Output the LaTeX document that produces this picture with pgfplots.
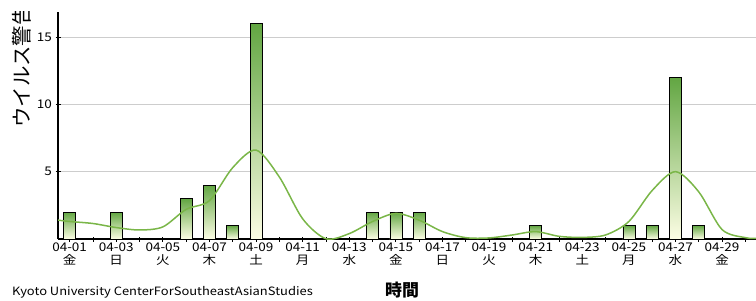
\documentclass[border=0pt]{standalone}
\usepackage{fontspec}
\setmainfont{Noto Sans CJK JP}
\newfontfamily\wide[FakeStretch=1.13]{Noto Sans CJK JP}
\usepackage{pgfplots}
\pgfplotsset{compat=1.18}
\definecolor{barTop}{RGB}{98,166,66}
\definecolor{barBot}{RGB}{252,253,228}
\definecolor{trend}{RGB}{122,182,72}
\definecolor{gridc}{RGB}{205,205,205}
\pgfplotsset{gbar/.style={ybar, bar width=12bp, bar shift=0pt, draw=black, line width=0.6bp, top color=barTop, bottom color=barBot, forget plot}}
\begin{document}
\begin{tikzpicture}[x=1bp,y=1bp]
\begin{axis}[
  at={(58bp,61bp)}, anchor=south west,
  scale only axis, width=699bp, height=227bp,
  xmin=0.5, xmax=30.5, ymin=0, ymax=16.85,
  axis x line*=bottom, axis y line*=left,
  axis line style={line width=1.5bp, black},
  xtick={1,3,...,29},
  xticklabels={{04-01\\金},{04-03\\日},{04-05\\火},{04-07\\木},{04-09\\土},{04-11\\月},{04-13\\水},{04-15\\金},{04-17\\日},{04-19\\火},{04-21\\木},{04-23\\土},{04-25\\月},{04-27\\水},{04-29\\金}},
  minor xtick={2,4,...,30},
  ytick={5,10,15},
  ymajorgrids, grid style={gridc, line width=0.8bp},
  tick align=center, major tick length=5bp, minor tick length=5bp,
  every tick/.style={black, line width=0.8bp},
  minor tick style={black, line width=0.8bp},
  x tick label style={align=center, font=\wide\fontsize{12}{13.5}\selectfont, inner sep=1bp},
  y tick label style={font=\wide\fontsize{12}{13}\selectfont},
  /pgf/number format/assume math mode=true,
]
\addplot[gbar] coordinates {(1,2)};
\addplot[gbar] coordinates {(3,2)};
\addplot[gbar] coordinates {(6,3)};
\addplot[gbar] coordinates {(7,4)};
\addplot[gbar] coordinates {(8,1)};
\addplot[gbar] coordinates {(9,16)};
\addplot[gbar] coordinates {(14,2)};
\addplot[gbar] coordinates {(15,2)};
\addplot[gbar] coordinates {(16,2)};
\addplot[gbar] coordinates {(21,1)};
\addplot[gbar] coordinates {(25,1)};
\addplot[gbar] coordinates {(26,1)};
\addplot[gbar] coordinates {(27,12)};
\addplot[gbar] coordinates {(28,1)};
\addplot[smooth, no marks, color=trend, line width=1.5bp] coordinates {
(0.5,1.4) (1,1.3) (2,1.15) (3,0.85) (4,0.67) (5,0.9) (6,2.2) (7,2.85) (8,5.3) (9,6.6) (10,4.6) (11,1.5) (12,0.02) (13,0.4) (14,1.3) (15,1.9) (16,1.4) (17,0.55) (18,0.1) (19,0.08) (20,0.3) (21,0.55) (22,0.2) (23,0.12) (24,0.3) (25,1.3) (26,3.6) (27,5.0) (28,3.5) (29,0.7) (30,0.1) (30.5,0.05)
};
\end{axis}
\begin{scope}
\clip (0,0) rectangle (756,288);
\node[rotate=90, anchor=west, font=\fontsize{20.5}{20.5}\selectfont, inner sep=0pt] at (22,172) {ウイルス警告数};
\end{scope}
\node[anchor=west, font=\wide\fontsize{11.5}{12}\selectfont, inner sep=0pt] at (12,8) {Kyoto University CenterForSoutheastAsianStudies};
\node[font=\fontsize{17}{17}\selectfont\bfseries, inner sep=0pt] at (402,10) {時間};
\pgfresetboundingbox
\useasboundingbox (0,0) rectangle (756,300);
\end{tikzpicture}
\end{document}
